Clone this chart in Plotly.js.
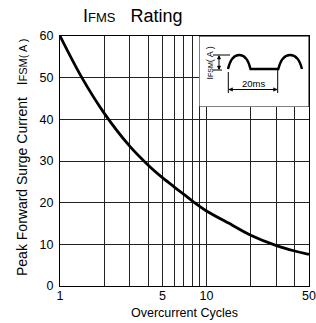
<!DOCTYPE html>
<html><head><meta charset="utf-8">
<script src="https://cdn.plot.ly/plotly-3.0.1.min.js"></script>
<style>html,body{margin:0;padding:0;background:#fff}#chart{width:316px;height:323px}</style>
</head><body><div id="chart"></div>
<script>
// Data
const cycles  = [1, 1.41, 2, 3, 4, 5, 6, 7, 8, 10, 15, 20, 30, 40, 50];
const current = [60, 50, 41.5, 33.5, 29, 26, 23.8, 22, 20.4, 18, 14.6, 12.2, 9.7, 8.4, 7.6];
const xTickVals = [1,2,3,4,5,6,7,8,9,10,20,30,40,50];
const xTickText = ['1','','','','5','','','','','10','','','','50'];

const FONT = 'Liberation Sans, Arial, sans-serif';
const INK = '#000';

const trace = {
  x: cycles, y: current, type: 'scatter', mode: 'lines',
  line: {color: INK, width: 2.8, shape: 'spline', smoothing: 1},
  hoverinfo: 'skip', showlegend: false
};
const insetTrace = {x: [200], y: [100], xaxis: 'x2', yaxis: 'y2', mode: 'markers',
  marker: {opacity: 0}, hoverinfo: 'skip', showlegend: false};

// inset drawn in pixel-like coordinates of an overlay axis (x: 199..309, y: 36..107 downward)
const b = 69, p = 55, h = b - p, c = b - h / 0.75;
function hump(x0, x1, move) {
  const w = x1 - x0;
  return (move ? `M${x0},${b} ` : '') + `C${x0 + w * 0.2},${c} ${x1 - w * 0.2},${c} ${x1},${b}`;
}
const wave = hump(228, 250.5, true) + ' L278.3,' + b + ' ' + hump(278.3, 302, false);
const shapes = [
  {type: 'rect', xref: 'x2', yref: 'y2', x0: 199, x1: 309, y0: 36, y1: 107,
   fillcolor: '#fff', line: {color: INK, width: 1}},
  {type: 'path', xref: 'x2', yref: 'y2', path: wave, line: {color: INK, width: 2.4}},
  {type: 'line', xref: 'x2', yref: 'y2', x0: 213, x1: 230, y0: 55, y1: 55, line: {color: INK, width: 1}},
  {type: 'line', xref: 'x2', yref: 'y2', x0: 213, x1: 222, y0: 70, y1: 70, line: {color: INK, width: 1}},
  {type: 'line', xref: 'x2', yref: 'y2', x0: 219, x1: 219, y0: 56, y1: 69, line: {color: INK, width: 1}},
  {type: 'path', xref: 'x2', yref: 'y2', path: 'M219,55.5 L217.3,59 L220.7,59 Z', fillcolor: INK, line: {color: INK, width: 0.5}},
  {type: 'path', xref: 'x2', yref: 'y2', path: 'M219,69.5 L217.3,66 L220.7,66 Z', fillcolor: INK, line: {color: INK, width: 0.5}},
  {type: 'line', xref: 'x2', yref: 'y2', x0: 228.3, x1: 228.3, y0: 72, y1: 93, line: {color: INK, width: 1}},
  {type: 'line', xref: 'x2', yref: 'y2', x0: 277.7, x1: 277.7, y0: 70, y1: 93, line: {color: INK, width: 1}},
  {type: 'line', xref: 'x2', yref: 'y2', x0: 229, x1: 277, y0: 89.5, y1: 89.5, line: {color: INK, width: 1}},
  {type: 'path', xref: 'x2', yref: 'y2', path: 'M228.8,89.5 L232.5,87.8 L232.5,91.2 Z', fillcolor: INK, line: {color: INK, width: 0.5}},
  {type: 'path', xref: 'x2', yref: 'y2', path: 'M277.2,89.5 L273.5,87.8 L273.5,91.2 Z', fillcolor: INK, line: {color: INK, width: 0.5}}
];

const annotations = [
  {xref: 'x2', yref: 'y2', x: 209.5, y: 63, text: 'I<span style="font-size:7px">FSM</span>( A )',
   textangle: -90, showarrow: false, font: {family: FONT, size: 9, color: INK}},
  {xref: 'x2', yref: 'y2', x: 253.5, y: 83.5, text: '20ms', showarrow: false,
   font: {family: FONT, size: 9.5, color: INK}},
  // y-axis title
  {xref: 'paper', yref: 'paper', x: (21.5 - 60) / 249, y: (286 - 157.5) / 250,
   xanchor: 'center', yanchor: 'middle', textangle: -90, showarrow: false,
   text: 'Peak Forward Surge Current\u00a0\u00a0\u00a0I<span style="font-size:11px">FSM</span><span style="font-size:11px">( A )</span>',
   font: {family: FONT, size: 14, color: INK}}
];

const layout = {
  width: 316, height: 323,
  margin: {l: 60, r: 7, t: 36, b: 37, pad: 0},
  paper_bgcolor: '#fff', plot_bgcolor: '#fff',
  font: {family: FONT, color: INK, size: 12},
  title: {
    text: 'I<span style="font-size:13px">FMS</span>\u00a0\u00a0\u00a0Rating',
    x: 83 / 316, xanchor: 'left', xref: 'container',
    y: 1 - 16 / 323, yanchor: 'middle', yref: 'container',
    font: {family: FONT, size: 18, color: INK}
  },
  xaxis: {
    type: 'log', range: [0, Math.log10(50)],
    tickmode: 'array', tickvals: xTickVals, ticktext: xTickText,
    showgrid: true, gridcolor: '#222', gridwidth: 1,
    showline: true, linecolor: INK, linewidth: 1, mirror: true,
    ticks: '', zeroline: false, ticklabelstandoff: -2,
    tickfont: {family: FONT, size: 12.5, color: INK},
    title: {text: 'Overcurrent Cycles', standoff: 6, font: {family: FONT, size: 12.5, color: INK}}
  },
  yaxis: {
    range: [0, 60], dtick: 10, tick0: 0,
    showgrid: true, gridcolor: '#222', gridwidth: 1,
    showline: true, linecolor: INK, linewidth: 1, mirror: true,
    ticks: '', zeroline: false, ticklabelstandoff: 3,
    tickfont: {family: FONT, size: 12.5, color: INK}
  },
  xaxis2: {domain: [(199 - 60) / 249, 1], range: [199, 309], anchor: 'y2', visible: false, fixedrange: true},
  yaxis2: {domain: [(286 - 107) / 250, 1], range: [107, 36], anchor: 'x2', visible: false, fixedrange: true},
  shapes: shapes,
  annotations: annotations
};

Plotly.newPlot('chart', [trace, insetTrace], layout, {displayModeBar: false, staticPlot: true});
</script>
</body></html>
